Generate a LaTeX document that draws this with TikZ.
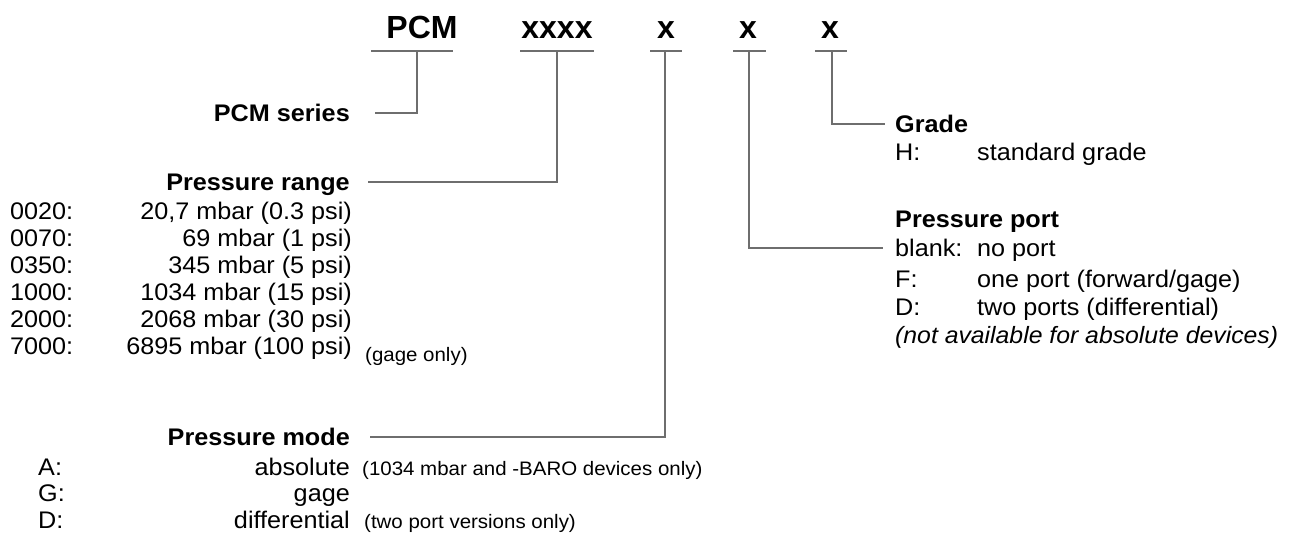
\documentclass[tikz,border=0pt]{standalone}
\usepackage{fontspec}
\setmainfont{Liberation Sans}[FakeStretch=1.05]
\newfontfamily\titlefont{Liberation Sans}
\usepackage{tikz}
\usetikzlibrary{positioning,calc}
\definecolor{leadgray}{HTML}{6E6E6E}
\tikzset{
  leader/.style={draw=leadgray, line width=1.2pt},
  codefield/.style={anchor=base, inner sep=0pt, font=\titlefont\bfseries\fontsize{32}{32}\selectfont},
  header/.style={inner sep=0pt, text height=17pt, text depth=0pt, font=\bfseries\fontsize{24}{24}\selectfont},
  entry/.style={inner sep=0pt, font=\fontsize{24}{24}\selectfont},
  remark/.style={inner sep=0pt, font=\fontsize{19.5}{19.5}\selectfont}
}

\begin{document}
\begin{tikzpicture}[x=1pt, y=-1pt]
  \useasboundingbox (0,0) rectangle (1290,542);
  \node[codefield] (cPCM) at (422,38) {PCM};
  \node[codefield] (cRange) at (557,38) {xxxx};
  \node[codefield] (cMode) at (666,38) {x};
  \node[codefield] (cPort) at (748,38) {x};
  \node[codefield] (cGrade) at (830,38) {x};
  \draw[leader] (371,51) -- (453,51);
  \draw[leader] (520,51) -- (594,51);
  \draw[leader] (650,51) -- (682,51);
  \draw[leader] (733,51) -- (766,51);
  \draw[leader] (815,51) -- (847,51);
  \coordinate (tPCM) at (417,51);
  \coordinate (tRange) at (557,51);
  \coordinate (tMode) at (665,51);
  \coordinate (tPort) at (749,51);
  \coordinate (tGrade) at (832,51);

  \node[header, anchor=east] (hSeries) at (350,113) {PCM series};

  \node[header, anchor=east] (hRange) at (350,182) {Pressure range};
  \node[entry, anchor=base west] (r1) at (10,219) {0020:};
  \node[entry, anchor=base east] (v1) at (352,219) {20,7 mbar (0.3 psi)};
  \node[entry, anchor=base west] (r2) at (10,246) {0070:};
  \node[entry, anchor=base east] (v2) at (352,246) {69 mbar (1 psi)};
  \node[entry, anchor=base west] (r3) at (10,273) {0350:};
  \node[entry, anchor=base east] (v3) at (352,273) {345 mbar (5 psi)};
  \node[entry, anchor=base west] (r4) at (10,300) {1000:};
  \node[entry, anchor=base east] (v4) at (352,300) {1034 mbar (15 psi)};
  \node[entry, anchor=base west] (r5) at (10,327) {2000:};
  \node[entry, anchor=base east] (v5) at (352,327) {2068 mbar (30 psi)};
  \node[entry, anchor=base west] (r6) at (10,354) {7000:};
  \node[entry, anchor=base east] (v6) at (352,354) {6895 mbar (100 psi)};
  \node[remark, anchor=base west] (n6) at (365,361) {(gage\ only)};

  \node[header, anchor=east] (hMode) at (350,437) {Pressure mode};
  \node[entry, anchor=base west] (mA) at (38,475) {A:};
  \node[entry, anchor=base east] (vA) at (350,475) {absolute};
  \node[remark, anchor=base west] (nA) at (362,475) {(1034 mbar and -BARO devices only)};
  \node[entry, anchor=base west] (mG) at (38,501) {G:};
  \node[entry, anchor=base east] (vG) at (350,501) {gage};
  \node[entry, anchor=base west] (mD) at (38,528) {D:};
  \node[entry, anchor=base east] (vD) at (350,528) {differential};
  \node[remark, anchor=base west] (nD) at (364,528) {(two port versions only)};

  \node[header, anchor=west] (hGrade) at (895,124) {Grade};
  \node[entry, anchor=base west] (gH) at (895,160) {H:};
  \node[entry, anchor=base west] (vH) at (977,160) {standard grade};

  \node[header, anchor=base west] (hPort) at (895,227) {Pressure port};
  \node[entry, anchor=west, text height=17pt, text depth=0pt] (pBlank) at (895,248) {blank:};
  \node[entry, anchor=base west] (vBlank) at (977,256) {no port};
  \node[entry, anchor=base west] (pF) at (895,287) {F:};
  \node[entry, anchor=base west] (vF) at (977,287) {one port (forward/gage)};
  \node[entry, anchor=base west] (pD) at (895,315) {D:};
  \node[entry, anchor=base west] (vPD) at (977,315) {two ports (differential)};
  \node[entry, anchor=base west, font=\itshape\fontsize{23.6}{23.6}\selectfont] (pNote) at (895,343) {(not available for absolute devices)};

  \draw[leader] (tPCM) |- ([xshift=25pt]hSeries.east);
  \draw[leader] (tRange) |- ([xshift=18pt]hRange.east);
  \draw[leader] (tMode) |- ([xshift=20pt]hMode.east);
  \draw[leader] (tPort) |- ([xshift=-12pt]pBlank.west);
  \draw[leader] (tGrade) |- ([xshift=-10pt]hGrade.west);
\end{tikzpicture}
\end{document}
